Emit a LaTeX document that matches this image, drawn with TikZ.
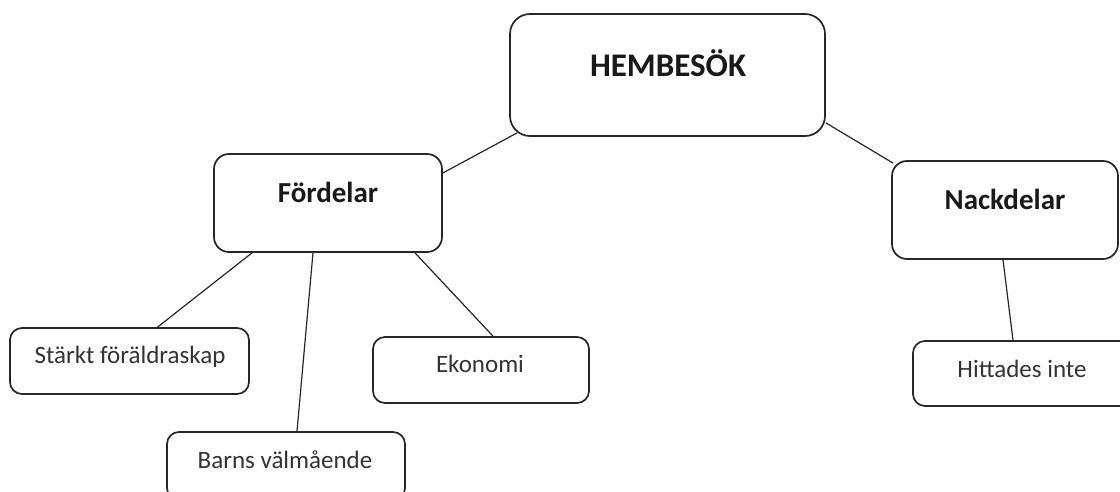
\documentclass[tikz,border=0pt]{standalone}
\usepackage{fontspec}
\setmainfont{Carlito}
\usetikzlibrary{calc}
\tikzset{
  box/.style={draw=black!85, line width=1.7pt, fill=white, inner sep=0pt},
  bigbox/.style={box, rounded corners=20pt},
  midbox/.style={box, rounded corners=15pt},
  leafbox/.style={box, rounded corners=12pt},
  conn/.style={draw=black!85, line width=1.2pt},
  toptext/.style={anchor=base, inner sep=0pt, font=\bfseries\fontsize{33}{40}\selectfont, text=black!90},
  midtext/.style={anchor=base, inner sep=0pt, font=\bfseries\fontsize{29}{35}\selectfont, text=black!90},
  leaftext/.style={anchor=base, inner sep=0pt, font=\fontsize{25}{30}\selectfont, text=black!80}
}
\begin{document}
\begin{tikzpicture}[x=1pt,y=-1pt]
\useasboundingbox (0,0) rectangle (1120,492);
\clip (0,0) rectangle (1120,492);
% boxes
\node[bigbox, minimum width=315pt, minimum height=122pt] (hem) at (667.5,75) {};
\node[midbox, minimum width=228pt, minimum height=98pt] (ford) at (328,203) {};
\node[midbox, minimum width=226pt, minimum height=98pt] (nack) at (1005,210) {};
\node[leafbox, minimum width=239pt, minimum height=66pt] (stark) at (129.5,361) {};
\node[leafbox, minimum width=238pt, minimum height=68pt] (barns) at (286,466) {};
\node[leafbox, minimum width=216pt, minimum height=66pt] (eko) at (481,370) {};
\node[leafbox, minimum width=222pt, minimum height=65pt] (hitt) at (1024,373.5) {};
% texts
\node[toptext] (hemt) at (668,77) {HEMBESÖK};
\node[midtext] (fordt) at (328,203) {Fördelar};
\node[midtext] (nackt) at (1005,210) {Nackdelar};
\node[leaftext] (starkt) at (130,363) {Stärkt föräldraskap};
\node[leaftext] (barnst) at (285,468) {Barns välmående};
\node[leaftext] (ekot) at (480,372) {Ekonomi};
\node[leaftext] (hittt) at (1022,377) {Hittades inte};
% connectors
\draw[conn] ($(hem.south west)+(8,-4)$) -- ($(ford.east)+(0,-30)$);
\draw[conn] ($(hem.south east)+(0,-14)$) -- ($(nack.north west)+(2,3)$);
\draw[conn] ($(ford.south)+(-76,0)$) -- ($(stark.north)+(28,0)$);
\draw[conn] ($(ford.south)+(-15,0)$) -- ($(barns.north)+(11,0)$);
\draw[conn] ($(ford.south)+(87,0)$) -- ($(eko.north)+(12,0)$);
\draw[conn] ($(nack.south)+(-2,0)$) -- ($(hitt.north)+(-11,0)$);
\end{tikzpicture}
\end{document}
